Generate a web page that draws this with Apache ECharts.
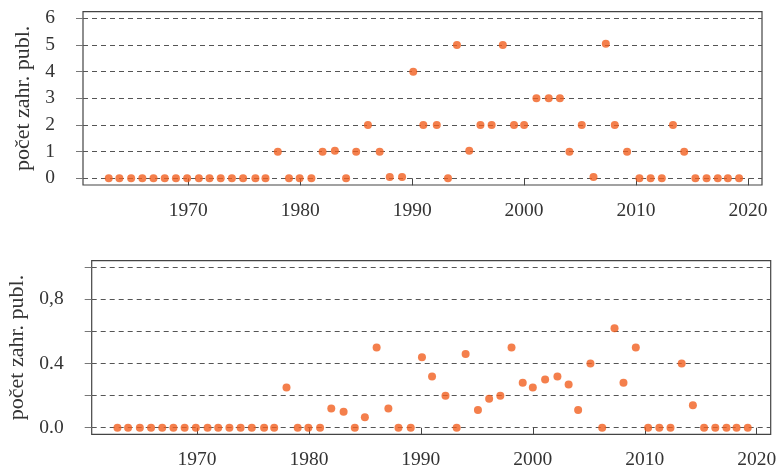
<!DOCTYPE html>
<html>
<head>
<meta charset="utf-8">
<script src="https://cdn.jsdelivr.net/npm/echarts@6/dist/echarts.min.js"></script>
<style>
html, body { margin: 0; padding: 0; background: #fff; }
#chart { width: 778px; height: 470px; }
</style>
</head>
<body>
<div id="chart"></div>
<script>
// roky (poloha bodů na ose x)
var roky = [1962.9, 1963.85, 1964.9, 1965.9, 1966.9, 1967.9, 1968.9, 1969.9, 1970.95, 1971.9,
    1972.9, 1973.9, 1974.9, 1976.0, 1976.9, 1978.0, 1979.0, 1979.95, 1981.0, 1982.0,
    1983.1, 1984.1, 1985.0, 1986.05, 1987.1, 1988.0, 1989.1, 1990.1, 1991.0, 1992.2,
    1993.2, 1994.0, 1995.1, 1996.1, 1997.1, 1998.1, 1999.1, 2000.0, 2001.1, 2002.2,
    2003.2, 2004.05, 2005.15, 2006.2, 2007.3, 2008.1, 2009.2, 2010.3, 2011.3, 2012.3,
    2013.3, 2014.3, 2015.3, 2016.3, 2017.3, 2018.2, 2019.2];

// horní graf - počet zahraničních publikací
var pocet = [0, 0, 0, 0, 0, 0, 0, 0, 0, 0,
    0, 0, 0, 0, 0, 1, 0, 0, 0, 1,
    1.03, 0, 1, 2, 1, 0.05, 0.05, 4, 2, 2,
    0, 5, 1.03, 2, 2, 5, 2, 2, 3, 3,
    3, 1, 2, 0.05, 5.05, 2, 1, 0, 0, 0,
    2, 1, 0, 0, 0, 0, 0];

// dolní graf - podíl
var podil = [0, 0, 0, 0, 0, 0, 0, 0, 0, 0,
    0, 0, 0, 0, 0, 0.25, 0, 0, 0, 0.12,
    0.10, 0, 0.065, 0.50, 0.12, 0, 0, 0.44, 0.32, 0.20,
    0, 0.46, 0.11, 0.18, 0.20, 0.50, 0.28, 0.25, 0.30, 0.32,
    0.27, 0.11, 0.40, 0, 0.62, 0.28, 0.50, 0, 0, 0,
    0.40, 0.14, 0, 0, 0, 0, 0];

var xTicks = [1970, 1980, 1990, 2000, 2010, 2020];
var yTicksHorni = [0, 1, 2, 3, 4, 5, 6];
var yTicksDolni = [0, 0.2, 0.4, 0.6, 0.8, 1.0];
var yPopiskyDolniHodnoty = [0, 0.4, 0.8];
var yPopiskyDolni = ['0.0', '0.4', '0,8'];
var nazevY = 'počet zahr. publ.';

var font = '"Liberation Serif", "DejaVu Serif", serif';
var oranzova = '#F15F1F';

function body(ys) {
    return roky.map(function (r, i) { return [r, ys[i]]; });
}

function osaX(idx) {
    return {
        type: 'value', gridIndex: idx, min: 1960.6, max: 2021.25,
        axisLine: { show: false },
        axisTick: { show: true, length: 7, customValues: xTicks, lineStyle: { color: '#444', width: 1 } },
        axisLabel: {
            customValues: xTicks, margin: 16, fontFamily: font, fontSize: 19.5, color: '#333',
            formatter: function (v) { return String(v); }
        },
        splitLine: { show: false }
    };
}

function osaY(idx, min, max, ticks, popisky, formatter, gap) {
    return {
        type: 'value', gridIndex: idx, min: min, max: max,
        name: nazevY, nameLocation: 'middle', nameRotate: 90, nameGap: gap,
        nameTextStyle: { fontFamily: font, fontSize: 22, color: '#333' },
        axisLine: { show: false },
        axisTick: { show: true, length: 7, customValues: ticks, lineStyle: { color: '#777', width: 1 } },
        axisLabel: { customValues: popisky, formatter: formatter, margin: 28, fontFamily: font, fontSize: 19.5, color: '#333' },
        splitLine: { show: true, lineStyle: { color: '#555', width: 1, type: [5, 4] } }
    };
}

var chart = echarts.init(document.getElementById('chart'), null, { renderer: 'canvas' });
chart.setOption({
    animation: false,
    backgroundColor: '#fff',
    grid: [
        { left: 83, right: 16, top: 11.7, height: 173.3, outerBoundsMode: 'none', containLabel: false,
            show: true, borderColor: '#444', borderWidth: 1.2, backgroundColor: 'transparent' },
        { left: 91.7, right: 7.3, top: 260.7, height: 173.6, outerBoundsMode: 'none', containLabel: false,
            show: true, borderColor: '#444', borderWidth: 1.2, backgroundColor: 'transparent' }
    ],
    xAxis: [osaX(0), osaX(1)],
    yAxis: [
        osaY(0, -0.25, 6.25, yTicksHorni, yTicksHorni, function (v) { return String(v); }, 48),
        osaY(1, -0.041, 1.041, yTicksDolni, yPopiskyDolniHodnoty, function (v) {
            var i = yPopiskyDolniHodnoty.indexOf(v);
            return i >= 0 ? yPopiskyDolni[i] : '';
        }, 61)
    ],
    series: [
        { type: 'scatter', xAxisIndex: 0, yAxisIndex: 0, data: body(pocet), symbolSize: 8, itemStyle: { color: oranzova } },
        { type: 'scatter', xAxisIndex: 1, yAxisIndex: 1, data: body(podil), symbolSize: 8, itemStyle: { color: oranzova } }
    ]
});
</script>
</body>
</html>
